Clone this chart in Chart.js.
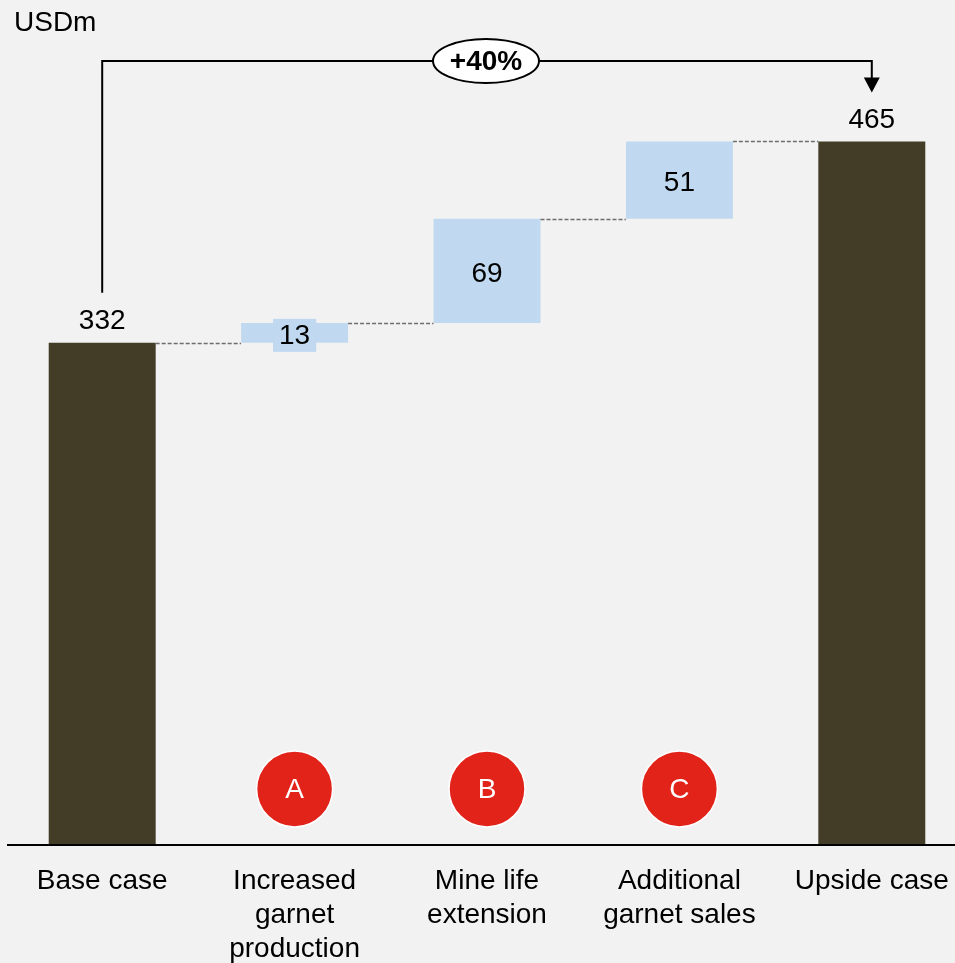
<!DOCTYPE html>
<html>
<head>
<meta charset="utf-8">
<title>Upside case bridge</title>
<script src="https://cdn.jsdelivr.net/npm/chart.js@4.4.1/dist/chart.umd.min.js"></script>
<style>
    html, body { margin: 0; padding: 0; background: #f2f2f2; overflow: hidden; }
    #wrap { width: 975px; height: 963px; }
</style>
</head>
<body>
<div id="wrap"><canvas id="chart" width="975" height="963"></canvas></div>
<script>
const categories = [
    ['Base case'],
    ['Increased', 'garnet', 'production'],
    ['Mine life', 'extension'],
    ['Additional', 'garnet sales'],
    ['Upside case'],
];
const baseValue = 332;
const stepValues = [13, 69, 51];
const upsideValue = 465;
const stepMarkers = ['A', 'B', 'C'];
const growthLabel = '+40%';
const unitLabel = 'USDm';
const yMax = 540;

const COLORS = {
    total: '#433d27',
    step: '#c0d8f0',
    marker: '#e2231a',
    connector: '#6e6e6e',
    text: '#000000',
};
const FONT = '"Liberation Sans", Arial, sans-serif';

// floating ranges for the waterfall: totals start at 0, steps stack on the running level
const ranges = [[0, baseValue]];
let running = baseValue;
stepValues.forEach((v) => {
    ranges.push([running, running + v]);
    running += v;
});
ranges.push([0, upsideValue]);

const isTotal = (i) => i === 0 || i === ranges.length - 1;

const waterfallDecor = {
    id: 'waterfallDecor',
    afterDatasetsDraw(chart) {
        const { ctx, chartArea, scales: { x, y } } = chart;
        const bars = chart.getDatasetMeta(0).data;
        ctx.save();

        // axis line
        ctx.fillStyle = COLORS.text;
        ctx.fillRect(7, chartArea.bottom - 1, chart.width, 2);

        // dashed connectors between bar tops
        ctx.strokeStyle = COLORS.connector;
        ctx.lineWidth = 1.3;
        ctx.setLineDash([4, 2]);
        for (let i = 0; i < bars.length - 1; i++) {
            const yy = Math.round(y.getPixelForValue(ranges[i][1])) + 0.5;
            ctx.beginPath();
            ctx.moveTo(bars[i].x + bars[i].width / 2, yy);
            ctx.lineTo(bars[i + 1].x - bars[i + 1].width / 2, yy);
            ctx.stroke();
        }
        ctx.setLineDash([]);

        // value labels
        ctx.font = '28px ' + FONT;
        ctx.textAlign = 'center';
        ctx.textBaseline = 'middle';
        bars.forEach((bar, i) => {
            const value = ranges[i][1] - ranges[i][0];
            if (isTotal(i)) {
                ctx.fillStyle = COLORS.text;
                ctx.fillText(String(value), bar.x, bar.y - 21);
            } else {
                const cy = (bar.y + bar.base) / 2 + 2;
                const w = ctx.measureText(String(value)).width + 12;
                ctx.fillStyle = COLORS.step;
                ctx.fillRect(bar.x - w / 2, cy - 16, w, 33);
                ctx.fillStyle = COLORS.text;
                ctx.fillText(String(value), bar.x, cy + 1);
            }
        });

        // lettered markers under the step bars
        stepMarkers.forEach((letter, k) => {
            const cx = x.getPixelForValue(k + 1);
            const cy = chartArea.bottom - 56;
            ctx.beginPath();
            ctx.arc(cx, cy, 38, 0, Math.PI * 2);
            ctx.fillStyle = COLORS.marker;
            ctx.fill();
            ctx.lineWidth = 1.5;
            ctx.strokeStyle = '#ffffff';
            ctx.stroke();
            ctx.fillStyle = '#ffffff';
            ctx.font = '28px ' + FONT;
            ctx.fillText(letter, cx, cy + 1);
        });

        // growth bracket from base case to upside case
        const xl = x.getPixelForValue(0);
        const xr = x.getPixelForValue(ranges.length - 1);
        const top = 61;
        const leftEnd = y.getPixelForValue(baseValue) - 50;
        const arrowTip = y.getPixelForValue(upsideValue) - 49;
        ctx.strokeStyle = COLORS.text;
        ctx.lineWidth = 2;
        ctx.beginPath();
        ctx.moveTo(xl, leftEnd);
        ctx.lineTo(xl, top);
        ctx.lineTo(xr, top);
        ctx.lineTo(xr, arrowTip - 14);
        ctx.stroke();
        ctx.beginPath();
        ctx.moveTo(xr - 8, arrowTip - 15);
        ctx.lineTo(xr + 8, arrowTip - 15);
        ctx.lineTo(xr, arrowTip);
        ctx.closePath();
        ctx.fillStyle = COLORS.text;
        ctx.fill();

        const ex = x.getPixelForValue(2) - 1;
        ctx.beginPath();
        ctx.ellipse(ex, top, 53, 22, 0, 0, Math.PI * 2);
        ctx.fillStyle = '#ffffff';
        ctx.fill();
        ctx.lineWidth = 2;
        ctx.stroke();
        ctx.fillStyle = COLORS.text;
        ctx.font = 'bold 28px ' + FONT;
        ctx.fillText(growthLabel, ex, top + 1);

        // unit label
        ctx.font = '28px ' + FONT;
        ctx.textAlign = 'left';
        ctx.fillText(unitLabel, 14, 23);

        ctx.restore();
    },
};

Chart.defaults.font.family = FONT;

new Chart(document.getElementById('chart'), {
    type: 'bar',
    data: {
        labels: categories,
        datasets: [{
            data: ranges,
            backgroundColor: ranges.map((r, i) => (isTotal(i) ? COLORS.total : COLORS.step)),
            barPercentage: 0.556,
            categoryPercentage: 1,
            borderWidth: 0,
            borderSkipped: false,
        }],
    },
    options: {
        responsive: false,
        animation: false,
        layout: { padding: { left: 6, right: 7, top: 28, bottom: 0 } },
        plugins: { legend: { display: false }, tooltip: { enabled: false } },
        scales: {
            x: {
                grid: { display: false, drawTicks: false },
                border: { display: false },
                ticks: {
                    color: COLORS.text,
                    font: { size: 28, lineHeight: 1.215 },
                    padding: 19,
                    maxRotation: 0,
                    autoSkip: false,
                },
                afterFit(scale) {
                    scale.height = 118;
                },
            },
            y: { display: false, min: 0, max: yMax },
        },
    },
    plugins: [waterfallDecor],
});
</script>
</body>
</html>
